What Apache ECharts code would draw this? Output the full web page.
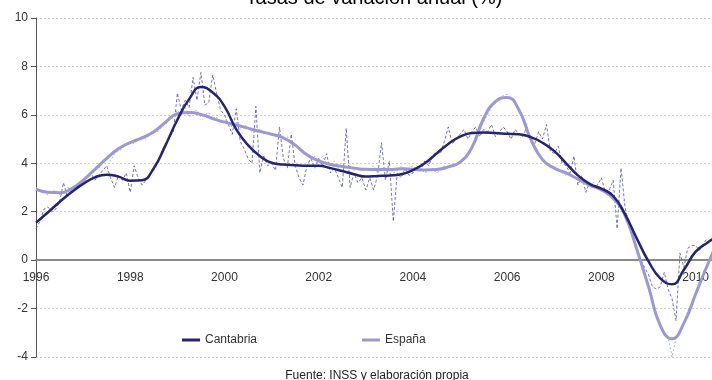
<!DOCTYPE html>
<html>
<head>
<meta charset="utf-8">
<script src="https://cdn.jsdelivr.net/npm/echarts@6/dist/echarts.min.js"></script>
<style>
  html, body { margin: 0; padding: 0; background: #fff; }
  #chart { width: 712px; height: 380px; }
</style>
</head>
<body>
<div id="chart"></div>
<script>
// Tasas de variación anual (%) - afiliación, 1996-2010
const titleText = 'Tasas de variación anual (%)'
const sourceText = 'Fuente: INSS y elaboración propia'
const seriesNames = ['Cantabria', 'España']
const yTicks = { min: -4, max: 10, step: 2 }
const xYears = { start: 1996, end: 2010.33, step: 2 }

// tendencia trimestral (línea gruesa), desde ene-1996
const trendCantabria = [
  1.55, 1.97, 2.4, 2.8, 3.15, 3.42, 3.53, 3.45, 3.28, 3.3, 3.8, 4.75,
  5.8, 6.65, 7.15, 6.92, 6.35, 5.4, 4.75, 4.3, 4.02, 3.95, 3.92, 3.9,
  3.9, 3.8, 3.68, 3.55, 3.45, 3.48, 3.5, 3.55, 3.72, 4.0, 4.4, 4.8,
  5.1, 5.25, 5.27, 5.25, 5.22, 5.2, 5.08, 4.85, 4.5, 4.0, 3.5, 3.15,
  2.95, 2.65, 1.9, 0.9, -0.05, -0.75, -1.0, -0.4, 0.35, 0.72, 1.05
]
const trendEspana = [
  2.92, 2.8, 2.78, 2.95, 3.3, 3.75, 4.2, 4.6, 4.85, 5.05, 5.3, 5.7,
  6.05, 6.1, 6.02, 5.85, 5.7, 5.58, 5.45, 5.32, 5.2, 5.05, 4.75, 4.35,
  4.1, 3.95, 3.87, 3.8, 3.75, 3.74, 3.74, 3.77, 3.75, 3.72, 3.74, 3.85,
  4.05, 4.65, 5.85, 6.55, 6.72, 6.2, 5.0, 4.15, 3.8, 3.6, 3.35, 3.1,
  2.9, 2.55, 1.85, 0.45, -1.1, -2.7, -3.25, -2.6, -1.4, -0.2, 0.9
]

// datos mensuales (línea discontinua), ene-1996 a abr-2010
const rawCantabria = [
  1.3, 1.6, 2.1, 2.2, 2.0, 2.1, 2.4, 3.2, 2.6, 2.9, 3.1, 3.0,
  3.2, 3.4, 3.6, 3.3, 3.5, 3.7, 3.9, 3.4, 3.0, 3.5, 3.3, 3.6,
  2.8, 3.9, 3.4, 3.1, 3.3, 3.6, 3.7, 4.0, 4.5, 4.8, 5.1, 5.3,
  6.9, 6.2, 6.6, 6.3, 7.55, 6.6, 7.75, 6.4, 6.5, 7.65, 6.9, 6.2,
  6.0, 5.6, 5.2, 6.25, 4.9, 4.6, 4.2, 4.0, 6.35, 3.6, 4.3, 3.9,
  4.0, 3.7, 5.5, 4.2, 3.8, 5.2, 3.9, 3.4, 3.1, 3.9, 4.2, 3.8,
  4.2, 3.9, 4.4, 3.6, 3.8, 3.4, 3.0, 5.45, 3.0, 3.6, 3.2, 3.4,
  2.9, 3.4, 2.9, 3.5, 4.85, 3.3, 4.1, 1.6, 3.6, 3.4, 3.8, 3.5,
  3.6, 3.9, 3.7, 4.1, 3.9, 4.3, 4.5, 4.4, 4.9, 5.5, 4.8, 5.0,
  5.2, 5.4, 5.0, 5.3, 5.5, 5.1, 5.4, 5.3, 5.6, 5.1, 5.3, 5.5,
  5.3, 5.0, 5.4, 5.2, 5.1, 5.5, 5.0, 4.8, 5.3, 5.0, 5.6, 4.5,
  4.4, 4.7, 4.0, 3.9, 3.6, 4.3, 3.1, 3.5, 2.8, 3.2, 3.0, 3.1,
  3.4, 2.8, 2.9, 3.3, 1.3, 3.8, 2.2, 1.5, 1.0, 0.4, 0.0, -0.3,
  -0.6, -1.1, -1.2, -1.1, -0.5, -1.2, -1.6, -2.5, 0.3, -0.3, 0.5, 0.6,
  0.6, 0.4, 0.7, 0.9
]
const rawEspana = [
  3.0, 2.9, 2.8, 2.7, 2.8, 2.9, 2.7, 2.8, 3.0, 2.9, 3.1, 3.2,
  3.3, 3.4, 3.6, 3.7, 3.8, 4.0, 4.2, 4.1, 4.4, 4.5, 4.6, 4.8,
  4.9, 4.8, 5.0, 5.1, 5.0, 5.2, 5.3, 5.3, 5.5, 5.6, 5.8, 5.9,
  6.2, 6.0, 6.3, 5.9, 6.1, 6.2, 5.9, 6.0, 6.1, 5.8, 5.9, 5.7,
  5.8, 5.6, 5.5, 5.7, 5.4, 5.6, 5.5, 5.3, 5.5, 5.4, 5.2, 5.3,
  5.2, 5.1, 5.2, 5.0, 5.1, 4.9, 4.8, 4.6, 4.5, 4.4, 4.2, 4.3,
  4.1, 4.3, 4.0, 3.9, 4.1, 3.8, 3.9, 3.8, 3.9, 3.7, 3.8, 3.7,
  3.8, 3.7, 3.9, 3.6, 3.8, 3.7, 3.8, 3.6, 3.7, 3.9, 3.7, 3.8,
  3.9, 3.7, 3.8, 3.6, 3.7, 3.8, 3.6, 3.7, 3.9, 3.8, 3.9, 4.0,
  4.0, 4.2, 4.3, 4.6, 4.9, 5.3, 5.7, 6.0, 6.3, 6.5, 6.7, 6.8,
  6.85, 6.7, 6.5, 6.3, 5.9, 5.6, 5.0, 4.6, 4.3, 4.2, 4.0, 3.9,
  3.8, 3.7, 3.6, 3.5, 3.6, 3.4, 3.3, 3.4, 3.2, 3.1, 3.2, 3.0,
  2.9, 2.8, 2.7, 2.55, 2.4, 2.1, 1.85, 1.4, 0.9, 0.4, -0.1, -0.6,
  -1.1, -1.6, -2.2, -2.7, -3.1, -3.2, -4.0, -3.2, -3.0, -2.6, -2.1, -1.8,
  -1.4, -1.0, -0.6, -0.2
]

const font = 'Liberation Sans, Arial, sans-serif'
const colorCantabria = '#25256e'
const colorEspana = '#9b99d2'

// fechas en años decimales
const quarterly = arr => arr.map((v, i) => [xYears.start + i / 4, v])
const monthly = arr => arr.map((v, i) => [xYears.start + i / 12, v])

// rejilla y desplazamiento del eje X hasta la línea del 0
const gridTop = 18
const gridBottom = 23
const plotHeight = 380 - gridTop - gridBottom
const zeroOffset = plotHeight * (0 - yTicks.min) / (yTicks.max - yTicks.min)

const chart = echarts.init(document.getElementById('chart'))

const legendBase = {
  top: 329,
  icon: 'rect',
  itemWidth: 18,
  itemHeight: 3,
  textStyle: { color: '#333', fontSize: 12, fontFamily: font }
}

const option = {
  backgroundColor: '#fff',
  animation: false,
  grid: { left: 36, right: 0, top: gridTop, bottom: gridBottom },
  graphic: [
    {
      type: 'text', x: 374, y: 8,
      style: {
        text: titleText, fill: '#000',
        font: '20px ' + font, textAlign: 'center', textVerticalAlign: 'bottom'
      }
    },
    {
      type: 'text', x: 377, y: 370,
      style: {
        text: sourceText, fill: '#222',
        font: '12px ' + font, textAlign: 'center', textVerticalAlign: 'top'
      }
    }
  ],
  legend: [
    Object.assign({ left: 177, data: [seriesNames[0]] }, legendBase),
    Object.assign({ left: 357, data: [seriesNames[1]] }, legendBase)
  ],
  xAxis: {
    type: 'value',
    min: xYears.start,
    max: xYears.end,
    interval: xYears.step,
    offset: -zeroOffset,
    axisLine: { onZero: false, lineStyle: { color: '#8a8a8a', width: 2 } },
    axisTick: { show: false },
    splitLine: { show: false },
    axisLabel: {
      color: '#333', fontSize: 12, fontFamily: font, margin: 12,
      showMaxLabel: false,
      formatter: v => (v % 2 === 0 ? String(v) : '')
    }
  },
  yAxis: {
    type: 'value',
    min: yTicks.min,
    max: yTicks.max,
    interval: yTicks.step,
    axisLine: { show: true, onZero: false, lineStyle: { color: '#555', width: 1 } },
    axisTick: { show: true, length: 5, lineStyle: { color: '#555' } },
    axisLabel: { color: '#333', fontSize: 12, fontFamily: font, margin: 8 },
    splitLine: { show: true, lineStyle: { color: '#cfcfcf', type: [2, 2], width: 1 } }
  },
  series: [
    {
      name: 'Cantabria mensual',
      type: 'line',
      data: monthly(rawCantabria),
      showSymbol: false,
      z: 1,
      lineStyle: { color: '#4a4a94', width: 1, type: [3, 2], opacity: 0.75 }
    },
    {
      name: 'España mensual',
      type: 'line',
      data: monthly(rawEspana),
      showSymbol: false,
      z: 1,
      lineStyle: { color: '#a9a7dc', width: 1, type: [2, 2], opacity: 0.9 }
    },
    {
      name: seriesNames[1],
      type: 'line',
      data: quarterly(trendEspana),
      smooth: 0.5,
      showSymbol: false,
      z: 2,
      color: colorEspana,
      lineStyle: { color: colorEspana, width: 3 }
    },
    {
      name: seriesNames[0],
      type: 'line',
      data: quarterly(trendCantabria),
      smooth: 0.5,
      showSymbol: false,
      z: 3,
      color: colorCantabria,
      lineStyle: { color: colorCantabria, width: 2.5 }
    }
  ]
}
chart.setOption(option)
</script>
</body>
</html>
